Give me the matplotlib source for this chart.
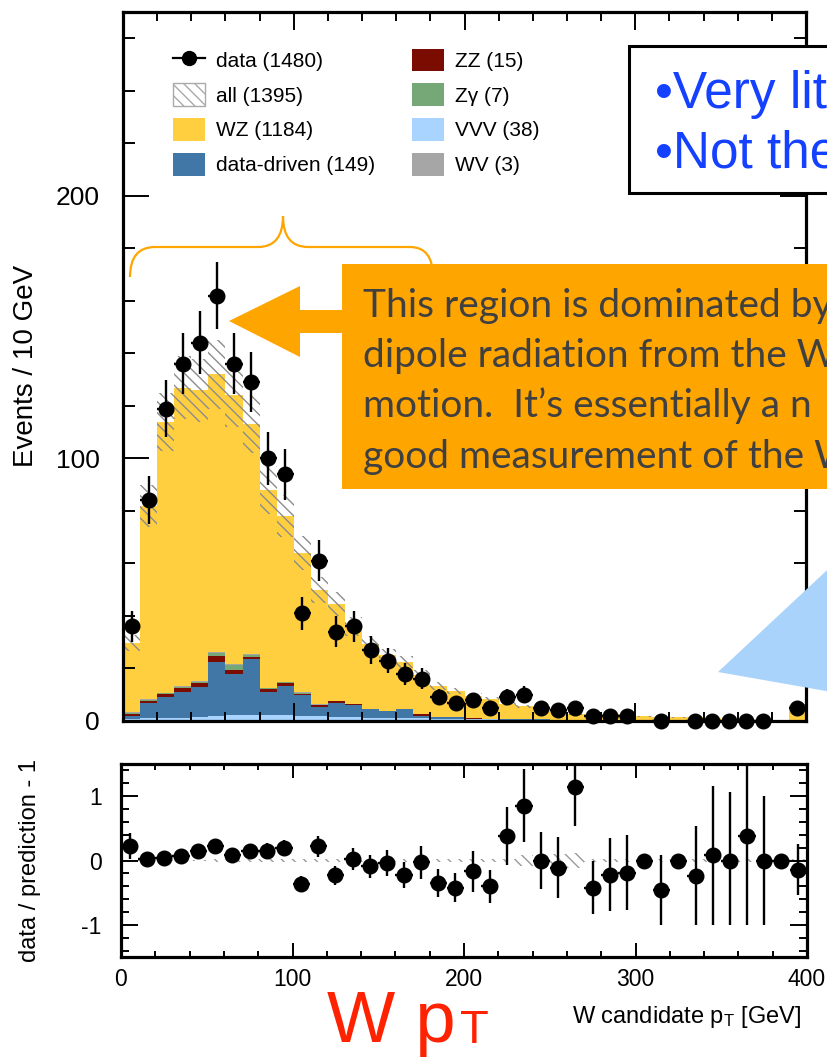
import numpy as np
import matplotlib
matplotlib.use("Agg")
import matplotlib.pyplot as plt
from matplotlib.patches import Patch, Polygon, Rectangle, PathPatch
from matplotlib.lines import Line2D
from matplotlib.path import Path
from matplotlib.ticker import MultipleLocator

plt.rcParams["font.family"] = ["Liberation Sans", "DejaVu Sans"]
plt.rcParams["mathtext.default"] = "regular"
plt.rcParams["axes.unicode_minus"] = False
plt.rcParams["hatch.linewidth"] = 1.0

# ---------------------------------------------------------------- data
bin_edges = np.arange(0, 410, 10)            # W candidate pT bins [GeV]
bin_centers = bin_edges[:-1] + 5

nan = np.nan
data = [36, 84, 119, 136, 144, 162, 136, 129, 100, 94,
        41, 61, 34, 36, 27, 23, 18, 16, 9, 7,
        8, 5, 9, 10, 5, 4, 5, 2, 2, 2,
        nan, 0, nan, 0, 0, 0, 0, 0, nan, 5]

vvv = [0.8, 1.2, 1.3, 1.2, 1.5, 2.0, 2.2, 2.3, 2.3, 2.2,
       2.0, 1.8, 1.6, 1.5, 1.3, 1.2, 1.2, 1.0, 0.8, 0.8,
       0.6, 0.6, 0.5, 0.5, 0.5, 0.4, 0.4, 0.4, 0.3, 0.3,
       0.3, 0.3, 0.3, 0.3, 0.2, 0.2, 0.2, 0.2, 0.2, 0.4]
data_driven = [1.2, 5.6, 8.0, 9.9, 11.5, 20.3, 15.8, 21.3, 8.9, 11.2,
               8.0, 3.6, 5.2, 4.6, 3.2, 2.6, 3.3, 1.0, 0.8, 0.8,
               0.3, 0.3, 0.2, 0.2, 0.2, 0.1, 0.1, 0.1, 0.1, 0.1,
               0, 0, 0, 0, 0, 0, 0, 0, 0, 0]
zz = [0.7, 1.0, 1.0, 1.3, 1.6, 2.4, 1.6, 0.7, 1.1, 1.0,
      0.3, 0.6, 0.8, 0.2, 0.2, 0.1, 0.2, 0.7, 0.1, 0.1,
      0.1, 0, 0, 0, 0, 0, 0, 0, 0, 0,
      0, 0, 0, 0, 0, 0, 0, 0, 0, 0]
zgamma = [0.3, 0.2, 0.2, 0.5, 0.3, 1.2, 1.8, 1.0, 0.2, 0.4,
          0.5, 0.2, 0.1, 0.1, 0, 0, 0, 0, 0, 0,
          0, 0, 0, 0, 0, 0, 0, 0, 0, 0,
          0, 0, 0, 0, 0, 0, 0, 0, 0, 0]
wv = [0.3, 0.3, 0.3, 0.3, 0.3, 0.3, 0.2, 0.2, 0.2, 0.2,
      0.1, 0.1, 0.1, 0.1, 0, 0, 0, 0, 0, 0,
      0, 0, 0, 0, 0, 0, 0, 0, 0, 0,
      0, 0, 0, 0, 0, 0, 0, 0, 0, 0]
wz = [26.4, 73.7, 103.2, 113.8, 110.8, 105.8, 102.4, 87.5, 75.3, 63.0,
      53.1, 43.7, 36.7, 29.5, 24.8, 21.1, 17.8, 14.8, 11.6, 9.6,
      8.6, 7.4, 5.7, 4.9, 4.6, 3.4, 2.0, 2.1, 2.1, 2.1,
      1.5, 1.2, 1.2, 1.2, 0.8, 0.3, 0.3, 0.3, 0.2, 5.6]
all_unc = [3.0, 8.0, 11.0, 12.0, 12.0, 13.0, 12.0, 11.0, 9.0, 8.0,
           6.5, 5.0, 4.5, 3.6, 3.0, 2.5, 2.3, 1.8, 1.4, 1.2,
           1.0, 0.9, 0.7, 0.6, 0.6, 0.4, 0.3, 0.3, 0.3, 0.3,
           0.2, 0.2, 0.2, 0.2, 0.1, 0.1, 0.1, 0.1, 0.1, 0.6]

ratio = [0.22, 0.02, 0.04, 0.07, 0.15, 0.22, 0.08, 0.15, 0.15, 0.20,
         -0.36, 0.22, -0.23, 0.02, -0.09, -0.04, -0.23, -0.03, -0.35, -0.42,
         -0.17, -0.40, 0.38, 0.85, 0.00, -0.11, 1.14, -0.42, -0.22, -0.19,
         0.00, -0.46, 0.00, -0.24, 0.09, 0.00, 0.38, 0.00, 0.00, -0.14]
ratio_err_up = [0.20, 0.10, 0.09, 0.09, 0.09, 0.10, 0.10, 0.10, 0.12, 0.12,
                0.12, 0.16, 0.15, 0.17, 0.18, 0.20, 0.20, 0.25, 0.22, 0.22,
                0.32, 0.26, 0.45, 0.57, 0.45, 0.47, 0.60, 0.41, 0.57, 0.58,
                0.00, 0.55, 0.00, 0.78, 1.07, 1.07, 1.10, 1.00, 0.00, 0.39]
ratio_err_dn = [0.20, 0.10, 0.09, 0.09, 0.09, 0.10, 0.10, 0.10, 0.12, 0.12,
                0.12, 0.16, 0.15, 0.17, 0.18, 0.20, 0.20, 0.25, 0.22, 0.22,
                0.32, 0.26, 0.45, 0.57, 0.45, 0.47, 0.60, 0.41, 0.57, 0.58,
                0.00, 0.54, 0.00, 0.76, 1.09, 1.00, 1.38, 1.00, 0.00, 0.39]
ratio_unc = [0.01, 0.01, 0.01, 0.01, 0.01, 0.02, 0.02, 0.02, 0.02, 0.02,
             0.02, 0.02, 0.02, 0.02, 0.02, 0.02, 0.02, 0.02, 0.02, 0.02,
             0.02, 0.02, 0.03, 0.08, 0.03, 0.10, 0.12, 0.02, 0.02, 0.02,
             0.02, 0.02, 0.02, 0.02, 0.02, 0.02, 0.02, 0.02, 0.02, 0.02]

legend_names = ["data", "all", "WZ", "data-driven", "ZZ", "Z\u03b3", "VVV", "WV"]
legend_yields = [1480, 1395, 1184, 149, 15, 7, 38, 3]

# ---------------------------------------------------------------- style
C_WZ = "#FFCF40"
C_DD = "#4177A6"
C_ZZ = "#7A0C02"
C_ZG = "#76A877"
C_VVV = "#A8D4FF"
C_WV = "#A6A6A6"
HATCH_C = "#8C8C8C"

W, H = 827, 1059
fig = plt.figure(figsize=(W / 100, H / 100), dpi=100)


def fx(x):
    return x / W


def fy(y):
    return 1 - y / H


def style_axes(a, ymaj, ymin, xlen, ylen, lab_size, ypad, xpad):
    a.set_xlim(0, 400)
    a.xaxis.set_major_locator(MultipleLocator(100))
    a.xaxis.set_minor_locator(MultipleLocator(20))
    a.yaxis.set_major_locator(MultipleLocator(ymaj))
    a.yaxis.set_minor_locator(MultipleLocator(ymin))
    a.tick_params(which="both", direction="in", top=True, right=True,
                  width=1.4, labelsize=lab_size, colors="black")
    a.tick_params(axis="x", which="major", length=xlen[0], pad=xpad)
    a.tick_params(axis="x", which="minor", length=xlen[1])
    a.tick_params(axis="y", which="major", length=ylen[0], pad=ypad)
    a.tick_params(axis="y", which="minor", length=ylen[1])
    for s in a.spines.values():
        s.set_linewidth(2.3)


# ---------------------------------------------------------------- main pad
ax = fig.add_axes([fx(123), fy(721), fx(806) - fx(123), fy(12) - fy(721)])
bottom = np.zeros(len(bin_centers))
for vals, col in [(vvv, C_VVV), (data_driven, C_DD), (zz, C_ZZ),
                  (zgamma, C_ZG), (wv, C_WV), (wz, C_WZ)]:
    top = bottom + np.asarray(vals)
    ax.stairs(top, bin_edges, baseline=bottom.copy(), fill=True,
              facecolor=col, edgecolor="none", lw=0, zorder=1)
    bottom = top
total = bottom
unc = np.asarray(all_unc)
ax.stairs(total + unc, bin_edges, baseline=total - unc, fill=True,
          facecolor="none", edgecolor=HATCH_C, hatch="\\\\\\", lw=0, zorder=2)

d = np.asarray(data, dtype=float)
ax.errorbar(bin_centers, d, yerr=np.sqrt(d), xerr=5, fmt="o", color="black",
            ms=10.5, lw=1.7, capsize=0, zorder=4, clip_on=False)
ax.set_ylim(0, 270)
style_axes(ax, 100, 20, (13, 6.5), (18.5, 8.5), 19, 17, 6)
ax.tick_params(axis="x", labelbottom=False)

handles = [
    Line2D([], [], color="black", marker="o", ms=10, lw=1.6),
    Patch(facecolor="white", edgecolor="#AAAAAA", hatch="\\\\\\", lw=1.0),
    Patch(facecolor=C_WZ, edgecolor="none"),
    Patch(facecolor=C_DD, edgecolor="none"),
    Patch(facecolor=C_ZZ, edgecolor="none"),
    Patch(facecolor=C_ZG, edgecolor="none"),
    Patch(facecolor=C_VVV, edgecolor="none"),
    Patch(facecolor=C_WV, edgecolor="none"),
]
labels = [f"{n} ({v})" for n, v in zip(legend_names, legend_yields)]
ax.legend(handles, labels, ncol=2, loc="upper left",
          bbox_to_anchor=((173 - 123) / 683, (721 - 48.5) / 709),
          frameon=False, fontsize=15, handlelength=1.54, handleheight=1.3,
          handletextpad=0.53, labelspacing=0.58, columnspacing=1.78,
          borderpad=0, borderaxespad=0)

# ---------------------------------------------------------------- ratio pad
rax = fig.add_axes([fx(121), fy(957), fx(807) - fx(121), fy(764) - fy(957)])
ru = np.asarray(ratio_unc)
rax.stairs(ru, bin_edges, baseline=-ru, fill=True, facecolor="none",
           edgecolor="#9A9A9A", hatch="\\\\\\", lw=0, zorder=1)
rax.errorbar(bin_centers, ratio, yerr=[ratio_err_dn, ratio_err_up], xerr=5,
             fmt="o", color="black", ms=10.5, lw=1.7, capsize=0, zorder=3)
rax.set_ylim(-1.5, 1.5)
style_axes(rax, 1, 0.2, (10, 4.5), (12, 6), 16.5, 14, 8)

fig.text(fx(26), fy(366), "Events / 10 GeV", rotation=90, ha="center",
         va="center", fontsize=20)
fig.text(fx(30), fy(860), "data / prediction - 1", rotation=90,
         ha="center", va="center", fontsize=17)
fig.text(fx(801), fy(1023), r"W candidate p$_{\mathregular{T}}$ [GeV]",
         ha="right", va="baseline", fontsize=17)

# ---------------------------------------------------------------- call-outs
T = fig.transFigure

# curly brace over the low-pT region
brace_pts = [(130, 277), (130, 247), (155, 247), (258, 247), (283, 247),
             (283, 216), (283, 247), (308, 247), (410, 247), (433, 247),
             (433, 277)]
brace_codes = [Path.MOVETO, Path.CURVE3, Path.CURVE3, Path.LINETO,
               Path.CURVE3, Path.CURVE3, Path.CURVE3, Path.CURVE3,
               Path.LINETO, Path.CURVE3, Path.CURVE3]
brace = Path([(fx(x), fy(y)) for x, y in brace_pts], brace_codes)
fig.add_artist(PathPatch(brace, transform=T, facecolor="none",
                         edgecolor="#FFA500", lw=1.6, zorder=5))

# arrow pointing at the peak
arrow_pts = [(229, 321), (300, 286), (300, 310), (350, 310), (350, 333),
             (300, 333), (300, 357)]
fig.add_artist(Polygon([(fx(x), fy(y)) for x, y in arrow_pts], closed=True,
                       transform=T, facecolor="#FFA500", edgecolor="none",
                       zorder=6))

# orange text box
fig.add_artist(Rectangle((fx(342), fy(489)), fx(900) - fx(342),
                         fy(264) - fy(489), transform=T, facecolor="#FFA500",
                         edgecolor="none", zorder=6))
box_lines = ["This region is dominated by",
             "dipole radiation from the W",
             "motion.  It\u2019s essentially a n",
             "good measurement of the W"]
for line, base in zip(box_lines, [317, 367, 417, 468]):
    fig.text(fx(363), fy(base), line, ha="left", va="baseline",
             fontsize=28, family=["Lato", "DejaVu Sans"], color="#404040",
             zorder=8)

# white bullet box
fig.add_artist(Rectangle((fx(629), fy(193)), fx(900) - fx(629),
                         fy(46) - fy(193), transform=T, facecolor="white",
                         edgecolor="black", lw=2.2, zorder=6))
for line, base in zip(["\u2022Very lit", "\u2022Not the"], [108, 168]):
    fig.text(fx(655), fy(base), line, ha="left", va="baseline",
             fontsize=37, color="#1440FF", zorder=8)

# light-blue callout pointer
tri = [(718, 672), (900, 502), (900, 704)]
fig.add_artist(Polygon([(fx(x), fy(y)) for x, y in tri], closed=True,
                       transform=T, facecolor="#A9D3FB", edgecolor="none",
                       zorder=6))

# big red W pT label
fig.text(fx(327), fy(1042), "W p", ha="left", va="baseline", fontsize=52,
         color="#FF2200", zorder=8)
fig.text(fx(460), fy(1043), "T", ha="left", va="baseline", fontsize=34,
         color="#FF2200", zorder=8)

fig.savefig("out.png", dpi=100)
